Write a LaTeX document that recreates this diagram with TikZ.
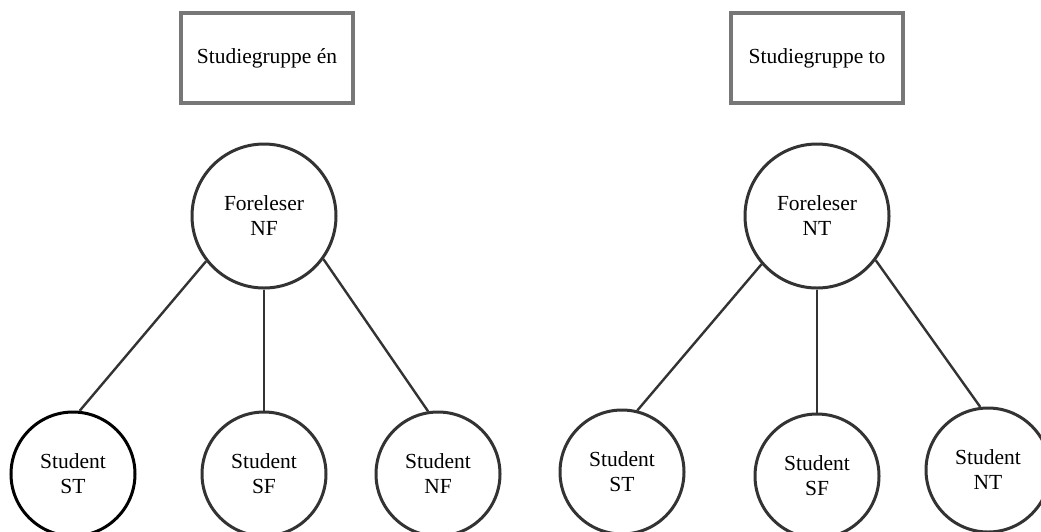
\documentclass[tikz,border=0pt]{standalone}
\usepackage{fontspec}
\setmainfont{Liberation Serif}
\definecolor{edgegray}{HTML}{333333}
\definecolor{boxgray}{HTML}{777777}
\begin{document}
\begin{tikzpicture}[x=1pt,y=-1pt,
  every node/.style={font=\fontsize{21.5}{25}\selectfont, align=center, inner sep=0pt},
  groupbox/.style={draw=boxgray, line width=3.2pt, minimum width=172pt, minimum height=90pt, fill=white},
  teacher/.style={circle, draw=edgegray, line width=3pt, minimum size=144pt},
  pupil/.style={circle, draw=edgegray, line width=3pt, minimum size=124pt},
  link/.style={draw=edgegray, line width=2.4pt}]
\useasboundingbox (0,0) rectangle (1041,531);

% group one
\node[groupbox] (g1) at (267,58) {Studiegruppe én};
\node[teacher] (f1) at (264,216) {Foreleser\\NF};
\node[pupil, draw=black] (s1a) at (73,474) {Student\\ST};
\node[pupil] (s1b) at (264,474) {Student\\SF};
\node[pupil] (s1c) at (438,474) {Student\\NF};
\path[link] (f1.218) -- (s1a.84);
\path[link] (f1.270) -- (s1b.90);
\path[link] (f1.324) -- (s1c.99);

% group two
\node[groupbox] (g2) at (817,58) {Studiegruppe to};
\node[teacher] (f2) at (817,216) {Foreleser\\NT};
\node[pupil] (s2a) at (622,472) {Student\\ST};
\node[pupil] (s2b) at (817,476) {Student\\SF};
\node[pupil] (s2c) at (988,470) {Student\\NT};
\path[link] (f2.221) -- (s2a.76);
\path[link] (f2.270) -- (s2b.90);
\path[link] (f2.323) -- (s2c.97);
\end{tikzpicture}
\end{document}
